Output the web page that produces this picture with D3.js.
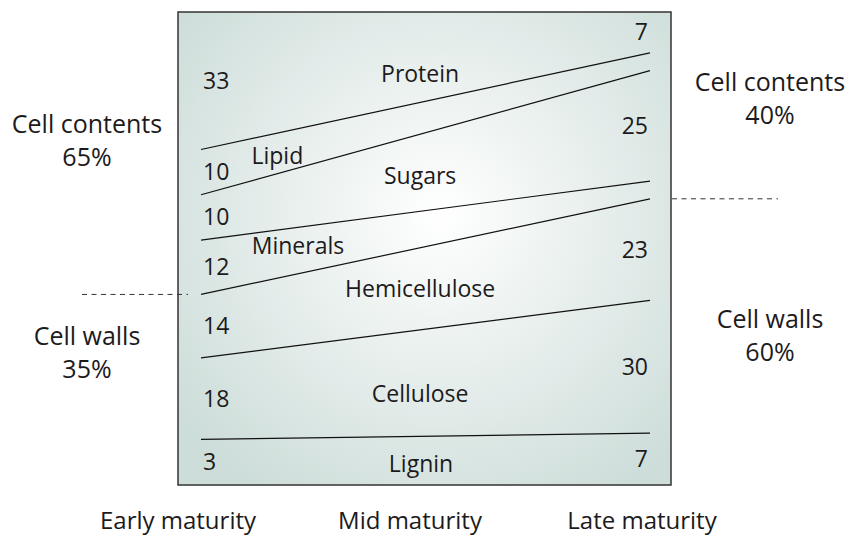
<html>
<head>
<script src="https://cdn.jsdelivr.net/npm/d3@7"></script>
<style type="text/css">
    body{ margin: 0; background: white; overflow: hidden }
    svg{ display: block }
    text{ font-family: "Open Sans", sans-serif; fill: #1d1a1b }
    .value{ font-size: 23px }
    .name{ font-size: 23px }
    .side{ font-size: 25px }
    .stage{ font-size: 24px }
</style>
</head>

<body>
<script type="text/javascript">
var width = 851,
    height = 537;

// forage composition, percent of dry matter
var stages = ['Early maturity', 'Mid maturity', 'Late maturity'];
var components = ['Protein', 'Lipid', 'Sugars', 'Minerals', 'Hemicellulose', 'Cellulose', 'Lignin'];
var earlyValues = [33, 10, 10, 12, 14, 18, 3];
var lateValues = [7, 4, 25, 4, 23, 30, 7];          // lipid and minerals not printed, estimated
var lateShown = [true, false, true, false, true, true, true];
var earlySplit = [65, 35];   // cell contents, cell walls
var lateSplit = [40, 60];
var splitNames = ['Cell contents', 'Cell walls'];

var box = {left: 178, top: 12, right: 671, bottom: 485};

// the drawing is schematic: each side has its own vertical scale
var yLeft = d3.scaleLinear().domain([0, 100]).range([box.top - 12, box.bottom - 32]);
var yRight = d3.scaleLinear().domain([0, 100]).range([box.top + 10, box.bottom - 21]);
var x = d3.scaleLinear().domain([0, 1]).range([box.left + 23, box.right - 21]);
var xStage = d3.scalePoint().domain(stages).range([178, 642]);

// label placement along each band (fraction of width) and a nudge
var nameAt = [0.488, 0.17, 0.488, 0.216, 0.488, 0.488, 0.49];
var nameDy = [17, 3, 3, -5, 0, 11, 3];

var cumEarly = d3.cumsum(earlyValues),
    cumLate = d3.cumsum(lateValues);

var svg = d3.select('body')
    .append('svg')
        .attr('width', width)
        .attr('height', height);

var grad = svg.append('defs').append('radialGradient')
    .attr('id', 'bg')
    .attr('gradientUnits', 'userSpaceOnUse')
    .attr('cx', 440).attr('cy', 215).attr('r', 330);
grad.append('stop').attr('offset', 0).attr('stop-color', '#ffffff');
grad.append('stop').attr('offset', 1).attr('stop-color', '#cdddd9');

svg.append('rect')
    .attr('x', box.left)
    .attr('y', box.top)
    .attr('width', box.right - box.left)
    .attr('height', box.bottom - box.top)
    .attr('fill', 'url(#bg)')
    .attr('stroke', '#333')
    .attr('stroke-width', 1.5);

// boundary lines between components
var bounds = d3.range(components.length - 1).map(function(i){
    return {l: yLeft(cumEarly[i]), r: yRight(cumLate[i])};
});

svg.selectAll('line.bound')
    .data(bounds)
    .enter()
    .append('line')
        .attr('class', 'bound')
        .attr('x1', x(0))
        .attr('y1', function(d){ return d.l; })
        .attr('x2', x(1))
        .attr('y2', function(d){ return d.r; })
        .attr('stroke', '#111')
        .attr('stroke-width', 1.2);

function edgeAt(i, t){  // boundary i (0 = box top, n = box bottom) at fraction t
    if(i == 0) return box.top;
    if(i == components.length) return box.bottom;
    var b = bounds[i - 1];
    return b.l + (b.r - b.l) * t;
}

// values on each side
svg.selectAll('text.left')
    .data(earlyValues)
    .enter()
    .append('text')
        .attr('class', 'value left')
        .attr('x', box.left + 25)
        .attr('y', function(d, i){ return (edgeAt(i, 0) + edgeAt(i + 1, 0)) / 2 + 8; })
        .text(function(d){ return d; });

var shownIdx = d3.range(components.length).filter(function(i){ return lateShown[i]; });
svg.selectAll('text.right')
    .data(shownIdx)
    .enter()
    .append('text')
        .attr('class', 'value right')
        .attr('text-anchor', 'end')
        .attr('x', box.right - 23)
        .attr('y', function(i){ return (edgeAt(i, 1) + edgeAt(i + 1, 1)) / 2 + 8; })
        .text(function(i){ return lateValues[i]; });

// component names
svg.selectAll('text.name')
    .data(components)
    .enter()
    .append('text')
        .attr('class', 'name')
        .attr('text-anchor', 'middle')
        .attr('x', function(d, i){ return x(nameAt[i]); })
        .attr('y', function(d, i){
            var t = nameAt[i];
            return (edgeAt(i, t) + edgeAt(i + 1, t)) / 2 + 8 + nameDy[i];
        })
        .text(function(d){ return d; });

// cell contents / cell walls split
svg.append('line')
    .attr('x1', 82).attr('x2', box.left + 10)
    .attr('y1', yLeft(earlySplit[0])).attr('y2', yLeft(earlySplit[0]))
    .attr('stroke', '#333').attr('stroke-dasharray', '5,4.5');
svg.append('line')
    .attr('x1', box.right + 1).attr('x2', 778)
    .attr('y1', yRight(lateSplit[0])).attr('y2', yRight(lateSplit[0]))
    .attr('stroke', '#333').attr('stroke-dasharray', '5,4.5');

var sideY = [[133, 345], [91, 328]];
[[earlySplit, 87], [lateSplit, 770]].forEach(function(s, k){
    s[0].forEach(function(v, j){
        var g = svg.append('text')
            .attr('class', 'side')
            .attr('text-anchor', 'middle')
            .attr('x', s[1])
            .attr('y', sideY[k][j]);
        g.append('tspan').attr('x', s[1]).text(splitNames[j]);
        g.append('tspan').attr('x', s[1]).attr('dy', 33).text(v + '%');
    });
});

svg.selectAll('text.stage')
    .data(stages)
    .enter()
    .append('text')
        .attr('class', 'stage')
        .attr('text-anchor', 'middle')
        .attr('x', function(d){ return xStage(d); })
        .attr('y', 529)
        .text(function(d){ return d; });
</script>
</body>
</html>
